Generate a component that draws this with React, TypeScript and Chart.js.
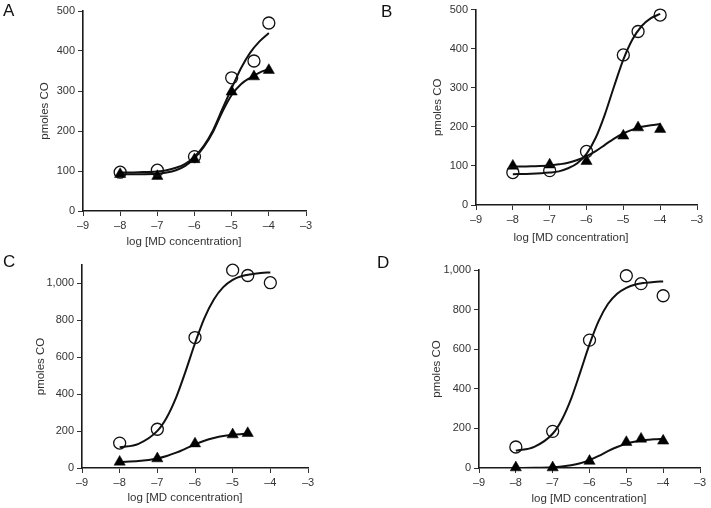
import React, { useEffect, useRef } from 'react';
import { Chart, registerables } from 'chart.js';

Chart.register(...registerables);

const FONT = '"Liberation Sans", Arial, Helvetica, sans-serif';

// Shared x positions of the fitted curves (log concentration)
const curveX = [-8, -7.5, -7, -6.75, -6.5, -6.25, -6, -5.75, -5.5, -5.25, -5, -4.75, -4.5, -4.25, -4];
const curveXShort = [-8, -7.5, -7, -6.75, -6.5, -6.25, -6, -5.75, -5.5, -5.25, -5, -4.75, -4.6];

// Panel A
const aPointX = [-8, -7, -6, -5, -4.4, -4];
const aCircles = [97, 102, 136, 333, 375, 470];
const aTriangles = [92, 87, 129, 298, 336, 352];
const aCircleCurve = [96, 97, 99, 102, 108, 118, 136, 163, 202, 255, 307, 357, 396, 424, 445];
const aTriangleCurve = [92, 92, 93, 96, 102, 113, 132, 160, 198, 248, 290, 317, 333, 346, 355];

// Panel B
const bPointX = [-8, -7, -6, -5, -4.6, -4];
const bCircles = [83, 88, 137, 384, 444, 486];
const bTriangles = [100, 103, 112, 177, 198, 194];
const bCircleCurve = [79, 80, 83, 86, 94, 107, 131, 172, 232, 304, 372, 424, 458, 478, 489];
const bTriangleCurve = [98, 99, 101, 104, 108, 115, 125, 138, 154, 170, 183, 193, 200, 204, 207];

// Panel C
const cCircleX = [-8, -7, -6, -5, -4.6, -4];
const cTriangleX = [-8, -7, -6, -5, -4.6];
const cCircles = [135, 210, 707, 1072, 1043, 1004];
const cTriangles = [33, 51, 132, 181, 188];
const cCircleCurve = [112, 131, 201, 274, 383, 524, 676, 812, 913, 980, 1020, 1040, 1050, 1057, 1060];
const cTriangleCurve = [33, 38, 52, 65, 83, 105, 128, 148, 163, 174, 180, 184, 186];

// Panel D
const dPointX = [-8, -7, -6, -5, -4.6, -4];
const dCircles = [106, 185, 646, 971, 931, 870];
const dTriangles = [2, 2, 35, 130, 147, 137];
const dCircleCurve = [87, 107, 173, 244, 349, 484, 624, 743, 828, 880, 910, 927, 935, 940, 942];
const dTriangleCurve = [0, 1, 4, 8, 14, 24, 40, 61, 85, 106, 123, 134, 141, 145, 147];

const xTickValues = [-9, -8, -7, -6, -5, -4, -3];

const pts = (xs: number[], ys: number[]) => xs.map((x, i) => ({ x, y: ys[i] }));

type PanelCfg = {
  letter: string;
  left: number;
  top: number;
  w: number;
  h: number;
  pad: { left: number; top: number; right: number; bottom: number };
  yw: number;
  yMax: number;
  yStep: number;
  circles: { x: number; y: number }[];
  triangles: { x: number; y: number }[];
  circleCurve: { x: number; y: number }[];
  triangleCurve: { x: number; y: number }[];
  letterPos: { x: number; y: number };
  xTitle: { x: number; y: number };
};

const panels: PanelCfg[] = [
  {
    letter: 'A', left: 0, top: 0, w: 355, h: 254,
    pad: { left: 38, top: 11, right: 49, bottom: 23 }, yw: 45, yMax: 500, yStep: 100,
    circles: pts(aPointX, aCircles), triangles: pts(aPointX, aTriangles),
    circleCurve: pts(curveX, aCircleCurve), triangleCurve: pts(curveX, aTriangleCurve),
    letterPos: { x: 3, y: 2 }, xTitle: { x: 184, y: 242 },
  },
  {
    letter: 'B', left: 355, top: 0, w: 356, h: 254,
    pad: { left: 76, top: 7, right: 14, bottom: 29 }, yw: 45, yMax: 500, yStep: 100,
    circles: pts(bPointX, bCircles), triangles: pts(bPointX, bTriangles),
    circleCurve: pts(curveX, bCircleCurve), triangleCurve: pts(curveX, bTriangleCurve),
    letterPos: { x: 381, y: 3 }, xTitle: { x: 571, y: 238 },
  },
  {
    letter: 'C', left: 0, top: 254, w: 355, h: 254,
    pad: { left: 34, top: 11, right: 47, bottom: 20 }, yw: 48, yMax: 1100, yStep: 200,
    circles: pts(cCircleX, cCircles), triangles: pts(cTriangleX, cTriangles),
    circleCurve: pts(curveX, cCircleCurve), triangleCurve: pts(curveXShort, cTriangleCurve),
    letterPos: { x: 3, y: 253 }, xTitle: { x: 185, y: 498 },
  },
  {
    letter: 'D', left: 355, top: 254, w: 356, h: 254,
    pad: { left: 75, top: 16, right: 11, bottom: 20 }, yw: 49, yMax: 1000, yStep: 200,
    circles: pts(dPointX, dCircles), triangles: pts(dPointX, dTriangles),
    circleCurve: pts(curveX, dCircleCurve), triangleCurve: pts(curveX, dTriangleCurve),
    letterPos: { x: 377, y: 254 }, xTitle: { x: 589, y: 499 },
  },
];

function Panel({ cfg }: { cfg: PanelCfg }) {
  const ref = useRef<HTMLCanvasElement>(null);
  useEffect(() => {
    if (!ref.current) return;
    const lineDs = (data: { x: number; y: number }[]) => ({
      type: 'line' as const,
      data,
      showLine: true,
      borderColor: '#111',
      borderWidth: 2,
      pointRadius: 0,
      fill: false,
      cubicInterpolationMode: 'monotone' as const,
    });
    const chart = new Chart(ref.current, {
      type: 'scatter',
      data: {
        datasets: [
          {
            data: cfg.circles,
            pointStyle: 'circle',
            pointRadius: 6,
            borderColor: '#111',
            borderWidth: 1.3,
            backgroundColor: 'rgba(0,0,0,0)',
            clip: false,
          } as any,
          {
            data: cfg.triangles,
            pointStyle: 'triangle',
            pointRadius: 6.5,
            borderColor: '#000',
            borderWidth: 0.5,
            backgroundColor: '#000',
            clip: false,
          } as any,
          lineDs(cfg.circleCurve) as any,
          lineDs(cfg.triangleCurve) as any,
        ],
      },
      options: {
        animation: false,
        responsive: false,
        devicePixelRatio: 1,
        events: [],
        layout: { padding: cfg.pad },
        plugins: { legend: { display: false }, tooltip: { enabled: false } },
        scales: {
          x: {
            type: 'linear',
            min: -9,
            max: -3,
            afterBuildTicks: (s: any) => {
              s.ticks = xTickValues.map((v) => ({ value: v }));
            },
            ticks: {
              stepSize: 1,
              color: '#333',
              padding: 3,
              font: { family: FONT, size: 11 },
              callback: (v: any) => (Number(v) < 0 ? '\u2013' + Math.abs(Number(v)) : String(v)),
            },
            grid: { display: true, drawOnChartArea: false, drawTicks: true, tickLength: 5, color: '#333', lineWidth: 1 },
            border: { display: true, color: '#1a1a1a', width: 1.6 },
            afterFit: (s: any) => {
              s.height = 20;
            },
          } as any,
          y: {
            type: 'linear',
            min: 0,
            max: cfg.yMax,
            afterBuildTicks: (s: any) => {
              s.ticks = s.ticks.filter((t: any) => t.value % cfg.yStep === 0);
            },
            ticks: {
              stepSize: cfg.yStep,
              color: '#333',
              padding: 3,
              font: { family: FONT, size: 11 },
              callback: (v: any) => Number(v).toLocaleString('en-US'),
            },
            grid: { display: true, drawOnChartArea: false, drawTicks: true, tickLength: 5, color: '#333', lineWidth: 1 },
            border: { display: true, color: '#1a1a1a', width: 1.6 },
            title: { display: true, text: 'pmoles CO', color: '#333', padding: 0, font: { family: FONT, size: 11.5 } },
            afterFit: (s: any) => {
              s.width = cfg.yw;
            },
          } as any,
        },
      },
    });
    return () => chart.destroy();
  }, [cfg]);

  return (
    <div style={{ position: 'absolute', left: cfg.left, top: cfg.top, width: cfg.w, height: cfg.h }}>
      <canvas ref={ref} width={cfg.w} height={cfg.h} style={{ width: cfg.w, height: cfg.h, display: 'block' }} />
    </div>
  );
}

export default function App() {
  return (
    <div style={{ position: 'absolute', left: 0, top: 0, width: 711, height: 508, background: '#fff', overflow: 'hidden' }}>
      {panels.map((p) => (
        <Panel key={p.letter} cfg={p} />
      ))}
      {panels.map((p) => (
        <div
          key={'l' + p.letter}
          style={{ position: 'absolute', left: p.letterPos.x, top: p.letterPos.y, fontFamily: FONT, fontSize: 17, lineHeight: '17px', color: '#111' }}
        >
          {p.letter}
        </div>
      ))}
      {panels.map((p) => (
        <div
          key={'t' + p.letter}
          style={{
            position: 'absolute',
            left: p.xTitle.x,
            top: p.xTitle.y - 8,
            transform: 'translateX(-50%)',
            whiteSpace: 'nowrap',
            fontFamily: FONT,
            fontSize: 11.5,
            lineHeight: '14px',
            color: '#333',
          }}
        >
          log [MD concentration]
        </div>
      ))}
    </div>
  );
}
